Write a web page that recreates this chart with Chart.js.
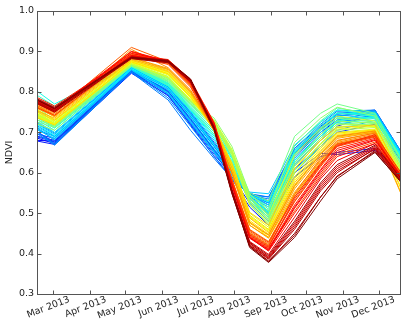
<!DOCTYPE html>
<html>
<head>
<meta charset="utf-8">
<script src="https://cdn.jsdelivr.net/npm/chart.js@4/dist/chart.umd.min.js"></script>
<style>
  html, body { margin: 0; padding: 0; background: #fff; }
  #grafico { display: block; }
</style>
</head>
<body>
<canvas id="grafico" width="402" height="324"></canvas>
<script>
// day of year of each composite
var days = [47, 61, 126, 157, 176, 196, 211, 226, 242, 264, 286, 300, 332, 354];

var tickDays = [60, 91, 121, 152, 182, 213, 244, 274, 305, 335];
var tickLabels = ['Mar 2013', 'Apr 2013', 'May 2013', 'Jun 2013', 'Jul 2013',
                  'Aug 2013', 'Sep 2013', 'Oct 2013', 'Nov 2013', 'Dec 2013'];

var yTicks = [0.3, 0.4, 0.5, 0.6, 0.7, 0.8, 0.9, 1.0];

// NDVI profiles, ordered as they are coloured (blue -> dark red)
var blueSeries = [
  [.680,.678,.848,.800,.735,.655,.600,.545,.520,.640,.700,.730,.750,.648],
  [.685,.672,.850,.805,.740,.665,.605,.540,.505,.620,.680,.715,.745,.640],
  [.678,.670,.846,.792,.718,.640,.585,.515,.470,.600,.648,.645,.655,.605],
  [.690,.680,.852,.795,.725,.650,.590,.525,.480,.590,.640,.650,.660,.600],
  [.695,.685,.855,.810,.745,.670,.610,.535,.500,.610,.665,.700,.720,.630],
  [.688,.676,.853,.802,.732,.658,.603,.548,.525,.660,.715,.745,.755,.652],
  [.700,.675,.850,.790,.720,.645,.595,.550,.530,.650,.705,.740,.752,.650],
  [.705,.690,.858,.812,.750,.675,.615,.540,.495,.625,.690,.725,.740,.640]
];
var cyanSeries = [
  [.700,.672,.852,.795,.722,.650,.598,.548,.540,.655,.712,.745,.752,.648],
  [.710,.680,.855,.800,.730,.655,.600,.545,.530,.645,.705,.740,.748,.645],
  [.700,.668,.848,.780,.705,.635,.585,.545,.540,.660,.720,.752,.755,.652],
  [.695,.670,.850,.785,.715,.640,.590,.545,.535,.650,.710,.748,.750,.650],
  [.715,.690,.858,.808,.740,.665,.608,.540,.515,.635,.695,.730,.742,.640],
  [.722,.698,.860,.812,.745,.670,.612,.530,.490,.600,.665,.705,.730,.632],
  [.720,.695,.860,.812,.748,.672,.612,.538,.505,.625,.690,.725,.738,.638],
  [.705,.685,.855,.798,.728,.652,.598,.542,.525,.648,.708,.742,.745,.642],
  [.708,.682,.854,.795,.725,.650,.596,.552,.548,.668,.725,.755,.752,.650],
  [.725,.700,.862,.815,.752,.680,.618,.535,.498,.620,.685,.720,.735,.635],
  [.712,.688,.856,.805,.736,.660,.604,.542,.520,.642,.700,.735,.744,.644],
  [.730,.705,.862,.818,.755,.685,.622,.540,.502,.630,.690,.728,.740,.640],
  [.718,.692,.858,.810,.742,.668,.610,.545,.528,.652,.712,.746,.748,.646]
];
var greenSeries = [
  [.735,.710,.862,.815,.755,.690,.625,.535,.495,.630,.695,.730,.738,.636],
  [.800,.770,.866,.820,.760,.700,.635,.540,.505,.655,.725,.755,.742,.640],
  [.740,.715,.864,.818,.758,.695,.630,.530,.490,.625,.690,.725,.730,.630],
  [.790,.765,.866,.822,.762,.705,.640,.545,.510,.650,.718,.748,.740,.638],
  [.750,.720,.866,.822,.765,.705,.638,.535,.500,.640,.705,.735,.735,.632],
  [.738,.712,.863,.816,.757,.694,.628,.525,.478,.605,.672,.712,.722,.622],
  [.745,.718,.865,.825,.768,.712,.645,.545,.515,.665,.728,.760,.745,.635],
  [.760,.730,.868,.828,.772,.715,.640,.530,.485,.620,.685,.720,.725,.625],
  [.755,.725,.867,.826,.770,.718,.650,.550,.530,.690,.747,.770,.747,.632]
];
var yellowSeries = [
  [.725,.712,.866,.832,.775,.725,.652,.535,.490,.640,.705,.735,.725,.615],
  [.730,.715,.867,.834,.776,.735,.665,.548,.505,.675,.735,.762,.740,.618],
  [.720,.705,.864,.830,.772,.722,.648,.530,.485,.625,.695,.728,.722,.612],
  [.735,.718,.868,.835,.778,.728,.655,.528,.480,.615,.685,.720,.718,.608],
  [.742,.722,.870,.838,.780,.726,.650,.522,.470,.600,.670,.705,.712,.600],
  [.745,.722,.870,.838,.780,.720,.645,.520,.475,.610,.680,.715,.715,.605],
  [.740,.720,.869,.836,.778,.730,.658,.540,.495,.645,.710,.740,.728,.612]
];
var orangeSeries = [
  [.740,.722,.872,.842,.785,.712,.625,.500,.465,.590,.665,.700,.708,.595],
  [.745,.725,.876,.848,.792,.714,.618,.492,.458,.600,.672,.708,.715,.600],
  [.748,.728,.875,.846,.790,.708,.615,.490,.455,.580,.655,.695,.705,.590],
  [.738,.720,.873,.844,.786,.706,.605,.478,.440,.545,.625,.672,.690,.565],
  [.755,.732,.878,.850,.795,.705,.608,.482,.448,.570,.648,.690,.702,.585],
  [.735,.718,.874,.845,.788,.710,.620,.495,.460,.585,.660,.698,.706,.560],
  [.750,.730,.878,.850,.794,.716,.622,.502,.470,.610,.680,.712,.718,.590],
  [.760,.738,.882,.852,.798,.702,.600,.475,.445,.565,.645,.688,.700,.580],
  [.752,.735,.880,.855,.800,.715,.612,.488,.452,.575,.652,.692,.704,.550],
  [.762,.740,.884,.856,.800,.712,.600,.470,.438,.552,.632,.678,.698,.548],
  [.765,.742,.885,.858,.802,.705,.598,.470,.440,.560,.640,.685,.700,.575],
  [.758,.740,.905,.860,.805,.710,.602,.478,.446,.568,.646,.690,.703,.585]
];
var redSeries = [
  [.762,.745,.890,.870,.815,.712,.585,.460,.430,.545,.630,.675,.695,.590],
  [.765,.748,.893,.871,.816,.714,.582,.452,.422,.548,.636,.680,.698,.596],
  [.768,.750,.895,.872,.818,.715,.580,.455,.425,.540,.625,.672,.692,.592],
  [.770,.752,.910,.875,.820,.710,.575,.450,.420,.530,.618,.668,.690,.588],
  [.774,.755,.898,.874,.822,.718,.574,.444,.414,.505,.595,.645,.676,.588],
  [.775,.755,.892,.874,.822,.718,.578,.448,.418,.528,.615,.665,.688,.590],
  [.760,.742,.888,.868,.812,.708,.582,.458,.428,.540,.622,.670,.690,.585],
  [.785,.765,.890,.880,.830,.724,.576,.446,.416,.535,.620,.666,.694,.600],
  [.778,.758,.900,.876,.825,.720,.572,.442,.412,.520,.608,.660,.685,.592],
  [.770,.750,.900,.873,.820,.712,.570,.440,.406,.500,.590,.640,.672,.586],
  [.780,.760,.895,.878,.826,.722,.570,.440,.410,.515,.605,.655,.682,.594],
  [.772,.752,.890,.875,.824,.716,.568,.438,.408,.512,.600,.650,.680,.590]
];
var darkRedSeries = [
  [.776,.756,.888,.876,.828,.715,.560,.430,.398,.490,.585,.630,.672,.588],
  [.775,.757,.887,.877,.829,.713,.556,.426,.390,.470,.565,.610,.662,.584],
  [.780,.760,.886,.878,.830,.712,.555,.425,.392,.475,.570,.615,.665,.585],
  [.774,.754,.884,.874,.826,.708,.552,.420,.386,.460,.555,.600,.660,.582],
  [.772,.753,.883,.873,.827,.707,.554,.422,.388,.465,.560,.605,.658,.580],
  [.770,.750,.882,.872,.825,.705,.548,.418,.382,.445,.540,.590,.655,.580],
  [.782,.762,.886,.878,.832,.712,.558,.428,.395,.480,.575,.620,.668,.586],
  [.779,.759,.884,.875,.831,.709,.552,.418,.380,.450,.540,.592,.652,.576],
  [.778,.758,.885,.876,.830,.710,.550,.415,.378,.440,.530,.585,.650,.578]
];

// jet colormap
function jet(v) {
  function c(x) { return Math.round(255 * Math.max(0, Math.min(1, x))); }
  return 'rgb(' + c(1.5 - Math.abs(4 * v - 3)) + ',' +
                  c(1.5 - Math.abs(4 * v - 2)) + ',' +
                  c(1.5 - Math.abs(4 * v - 1)) + ')';
}

var todas = [].concat(blueSeries, cyanSeries, greenSeries, yellowSeries,
                      orangeSeries, redSeries, darkRedSeries);

var datasets = [];
todas.forEach(function(serie, i) {
  var cor = jet(0.12 + 0.88 * i / (todas.length - 1));
  // first dataset is drawn on top in Chart.js, so the red ones go first
  datasets.unshift({
    data: serie.map(function(v, k) { return { x: days[k], y: v }; }),
    borderColor: cor,
    borderWidth: 1,
    pointRadius: 0,
    tension: 0,
    fill: false
  });
});

// matplotlib-like frame with inward ticks
var moldura = {
  id: 'moldura',
  afterDraw: function(chart) {
    var ctx = chart.ctx, a = chart.chartArea;
    var x0 = Math.round(a.left) - 0.5, x1 = Math.round(a.right) - 0.5;
    var y0 = Math.round(a.top) + 0.5, y1 = Math.round(a.bottom) + 0.5;
    ctx.save();
    ctx.strokeStyle = '#555';
    ctx.lineWidth = 1;
    ctx.strokeRect(x0, y0, x1 - x0, y1 - y0);
    ctx.beginPath();
    tickDays.forEach(function(d) {
      var px = Math.round(chart.scales.x.getPixelForValue(d)) + 0.5;
      ctx.moveTo(px, y1); ctx.lineTo(px, y1 - 4);
      ctx.moveTo(px, y0); ctx.lineTo(px, y0 + 4);
    });
    yTicks.forEach(function(v) {
      var py = Math.round(chart.scales.y.getPixelForValue(v)) + 0.5;
      ctx.moveTo(x0, py); ctx.lineTo(x0 + 4, py);
      ctx.moveTo(x1, py); ctx.lineTo(x1 - 4, py);
    });
    ctx.stroke();
    ctx.restore();
  }
};

var fonte = { family: 'DejaVu Sans', size: 9.5 };

new Chart(document.getElementById('grafico').getContext('2d'), {
  type: 'line',
  data: { datasets: datasets },
  plugins: [moldura],
  options: {
    responsive: false,
    animation: false,
    layout: { padding: { top: 11, right: 1, left: 0, bottom: 0 } },
    plugins: { legend: { display: false }, tooltip: { enabled: false } },
    scales: {
      x: {
        type: 'linear',
        min: 47,
        max: 354,
        grid: { display: false, drawTicks: false },
        border: { display: false },
        afterBuildTicks: function(scale) {
          scale.ticks = tickDays.map(function(d) { return { value: d }; });
        },
        afterFit: function(scale) {
          scale.height = 30;
          scale.paddingLeft = 0;
          scale.paddingRight = 0;
        },
        ticks: {
          autoSkip: false,
          minRotation: 21,
          maxRotation: 21,
          labelOffset: 16,
          padding: 0,
          color: '#222',
          font: fonte,
          callback: function(v) { return tickLabels[tickDays.indexOf(v)]; }
        }
      },
      y: {
        min: 0.3,
        max: 1.0,
        grid: { display: false, drawTicks: false },
        border: { display: false },
        afterBuildTicks: function(scale) {
          scale.ticks = yTicks.map(function(v) { return { value: v }; });
        },
        afterFit: function(scale) { scale.width = 38; },
        ticks: {
          padding: 4,
          color: '#222',
          font: fonte,
          callback: function(v) { return v.toFixed(1); }
        },
        title: { display: true, text: 'NDVI', color: '#222', font: fonte, padding: { top: 4, bottom: 0 } }
      }
    }
  }
});
</script>
</body>
</html>
